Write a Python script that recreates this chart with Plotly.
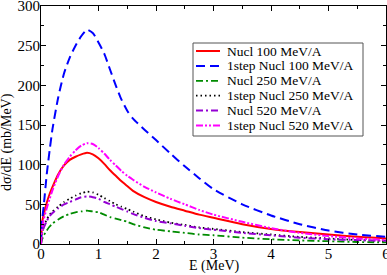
import plotly.graph_objects as go

E = [0, 0.02, 0.05, 0.1, 0.15, 0.2, 0.3, 0.4, 0.5, 0.6, 0.7, 0.8, 0.9, 1.0, 1.1, 1.2, 1.3, 1.4,
     1.5, 1.6, 1.8, 2.0, 2.25, 2.5, 2.75, 3.0, 3.5, 4.0, 4.5, 5.0, 5.5, 6.0]

nucl_100 = [0, 28, 38, 52, 63, 72, 88, 99, 106, 110, 113, 115, 113, 108, 101, 93, 86, 79,
            73, 67, 59, 53, 47, 42, 37, 33, 25, 19, 15, 12, 9, 7]
step_100 = [0, 30, 50, 88, 118, 145, 185, 215, 235, 250, 262, 270, 266, 254, 240, 220, 200, 182,
            168, 158, 144, 131, 114, 98, 83, 69, 50, 36, 25, 17, 12, 9]
nucl_250 = [0, 6, 11, 17, 22, 26, 31, 35, 38, 40, 41, 42, 41, 40, 37, 34, 32, 30,
            28, 25, 21, 18, 16, 14, 12, 11, 8, 6, 4.5, 3.5, 2.5, 2]
step_250 = [0, 15, 22, 31, 37, 41, 47, 53, 57, 61, 64, 66, 65, 62, 58, 54, 50, 47,
            44, 41, 35, 31, 27, 24, 21, 19, 15, 12, 9, 7, 5, 4]
nucl_520 = [0, 14, 21, 29, 35, 39, 45, 50, 53, 56, 59, 60, 59, 57, 53, 50, 47, 44,
            41, 38, 33, 29, 26, 23, 20, 18, 14, 11, 8, 6, 5, 4]
step_520 = [0, 20, 32, 45, 57, 68, 86, 100, 110, 118, 124, 127, 126, 121, 114, 106, 99, 92,
            86, 81, 72, 65, 57, 50, 43, 37, 28, 20, 14, 10, 7, 5]

names = ["Nucl 100 MeV/A", "1step Nucl 100 MeV/A", "Nucl 250 MeV/A",
         "1step Nucl 250 MeV/A", "Nucl 520 MeV/A", "1step Nucl 520 MeV/A"]
values = [nucl_100, step_100, nucl_250, step_250, nucl_520, step_520]
colors = ["#ff0000", "#0000ff", "#008b00", "#000000", "#9400d3", "#ff00ff"]
dashes = ["solid", "9px,5px", "7px,3px,2px,3px", "1.5px,3px", "7px,3px,2px,3px",
          "7px,2px,2px,2px,2px,2px"]
widths = [2, 2, 1.8, 1.8, 2, 2]

font = "Liberation Serif"

fig = go.Figure()
for name, y, color, dash, w in zip(names, values, colors, dashes, widths):
    fig.add_trace(go.Scatter(x=E, y=y, mode="lines", name=name, showlegend=False,
                             line=dict(color=color, dash=dash, width=w, shape="spline", smoothing=0.6)))

# plot area in pixels (for legend / title placement)
L, R, T, B = 41, 386, 6, 244
W, H = R - L, B - T
px = lambda x: (x - L) / W
py = lambda y: (B - y) / H

# custom legend (compact rows like the original)
shapes = [dict(type="rect", xref="paper", yref="paper", x0=px(193), x1=px(363), y0=py(136), y1=py(43),
               line=dict(color="#555555", width=1), fillcolor="white", layer="above")]
annotations = []
for i, (name, color, dash, w) in enumerate(zip(names, colors, dashes, widths)):
    yc = 51 + 14.9 * i
    shapes.append(dict(type="line", xref="paper", yref="paper", x0=px(196), x1=px(220),
                       y0=py(yc), y1=py(yc), line=dict(color=color, dash=dash, width=w), layer="above"))
    annotations.append(dict(text=name, xref="paper", yref="paper", x=px(225), y=py(yc),
                            xanchor="left", yanchor="middle", showarrow=False,
                            font=dict(family=font, size=13.5, color="black")))

annotations.append(dict(text="E (MeV)", xref="paper", yref="paper", x=0.5, y=py(266),
                        xanchor="center", yanchor="middle", showarrow=False,
                        font=dict(family=font, size=14, color="black")))
annotations.append(dict(text="dσ/dE (mb/MeV)", xref="paper", yref="paper", x=px(7), y=py(142),
                        xanchor="center", yanchor="middle", showarrow=False, textangle=-90,
                        font=dict(family=font, size=14, color="black")))

axis_common = dict(showgrid=False, zeroline=False, showline=True, linecolor="black", linewidth=1,
                   mirror="allticks", ticks="inside", ticklen=5, tickcolor="black",
                   tickfont=dict(family=font, size=15, color="black"),
                   minor=dict(ticks="inside", ticklen=3, tickcolor="black"),
                   automargin=False, ticklabeloverflow="allow")

fig.update_layout(
    width=387, height=275,
    margin=dict(l=L, r=387 - R, t=T, b=275 - B),
    paper_bgcolor="white", plot_bgcolor="white",
    showlegend=False,
    shapes=shapes, annotations=annotations,
    xaxis=dict(range=[0, 6], dtick=1, minor_dtick=0.5, ticklabelstandoff=-4, **axis_common),
    yaxis=dict(range=[0, 300], dtick=50, minor_dtick=25, ticklabelstandoff=-3, **axis_common),
)

fig.write_html("out.html", config={"displayModeBar": False},
               post_script="document.body.style.margin='0';document.body.style.padding='0';")
